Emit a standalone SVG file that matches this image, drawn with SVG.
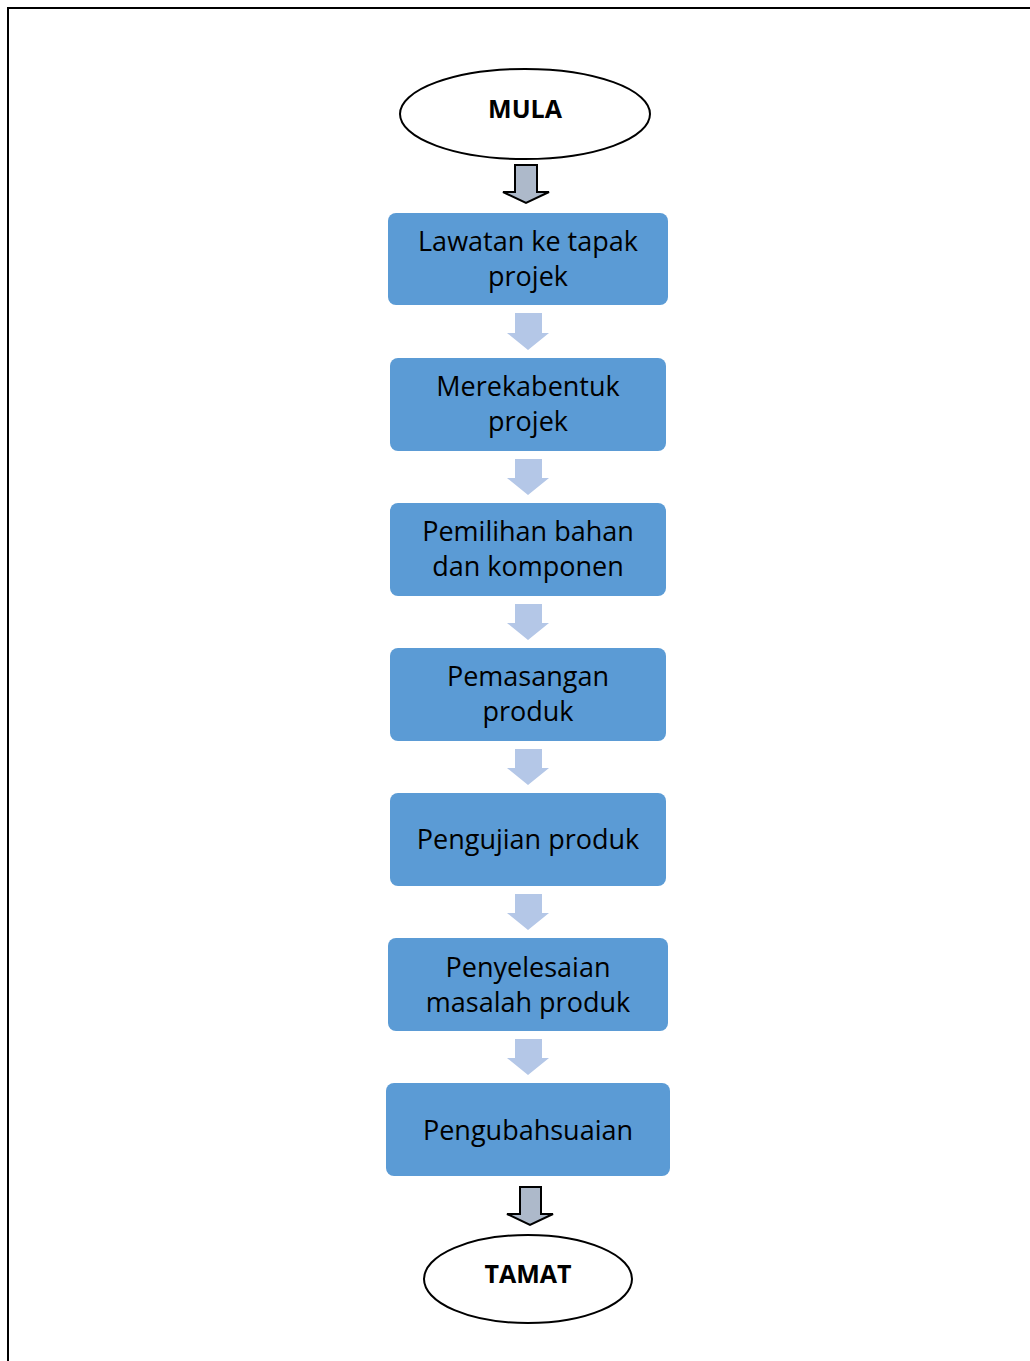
<svg xmlns="http://www.w3.org/2000/svg" width="1030" height="1361" viewBox="0 0 1030 1361">
<style>
.box{fill:#5B9BD5;}
.t{font-family:"Open Sans","Liberation Sans",sans-serif;font-size:27px;fill:#000;text-anchor:middle;}
.tb{font-family:"Open Sans","Liberation Sans",sans-serif;font-size:25px;font-weight:bold;fill:#000;text-anchor:middle;}
.ell{fill:#fff;stroke:#000;stroke-width:2;}
.ga{fill:#ADB9CA;stroke:#000;stroke-width:2;}
.la{fill:#B4C7E7;}
</style>
<rect x="0" y="0" width="1030" height="1361" fill="#fff"/>
<path d="M8,1361 V8 H1030" fill="none" stroke="#000" stroke-width="2"/>
<g id="connectors">
<path class="ga" d="M515,165 H537 V192 H549 L526,203 L503,192 H515 Z"/>
<path class="la" d="M515,313 H542 V333 H549 L528,350 L507,333 H515 Z"/>
<path class="la" d="M515,459 H542 V478 H549 L528,495 L507,478 H515 Z"/>
<path class="la" d="M515,604 H542 V623 H549 L528,640 L507,623 H515 Z"/>
<path class="la" d="M515,749 H542 V768 H549 L528,785 L507,768 H515 Z"/>
<path class="la" d="M515,894 H542 V913 H549 L528,930 L507,913 H515 Z"/>
<path class="la" d="M515,1039 H542 V1058 H549 L528,1075 L507,1058 H515 Z"/>
<path class="ga" d="M520,1187 H541 V1214 H553 L530,1225 L507,1214 H520 Z"/>
</g>
<g id="mula"><ellipse class="ell" cx="525" cy="114" rx="125" ry="45"/><text class="tb" x="525" y="118">MULA</text></g>
<g id="n1"><rect class="box" x="388" y="213" width="280" height="92" rx="8"/><text class="t" x="528" y="251">Lawatan ke tapak</text><text class="t" x="528" y="286">projek</text></g>
<g id="n2"><rect class="box" x="390" y="358" width="276" height="93" rx="8"/><text class="t" x="528" y="396">Merekabentuk</text><text class="t" x="528" y="431">projek</text></g>
<g id="n3"><rect class="box" x="390" y="503" width="276" height="93" rx="8"/><text class="t" x="528" y="541">Pemilihan bahan</text><text class="t" x="528" y="576">dan komponen</text></g>
<g id="n4"><rect class="box" x="390" y="648" width="276" height="93" rx="8"/><text class="t" x="528" y="686">Pemasangan</text><text class="t" x="528" y="721">produk</text></g>
<g id="n5"><rect class="box" x="390" y="793" width="276" height="93" rx="8"/><text class="t" x="528" y="849">Pengujian produk</text></g>
<g id="n6"><rect class="box" x="388" y="938" width="280" height="93" rx="8"/><text class="t" x="528" y="977">Penyelesaian</text><text class="t" x="528" y="1012">masalah produk</text></g>
<g id="n7"><rect class="box" x="386" y="1083" width="284" height="93" rx="8"/><text class="t" x="528" y="1140">Pengubahsuaian</text></g>
<g id="tamat"><ellipse class="ell" cx="528" cy="1279" rx="104" ry="44"/><text class="tb" x="528" y="1283">TAMAT</text></g>
</svg>
